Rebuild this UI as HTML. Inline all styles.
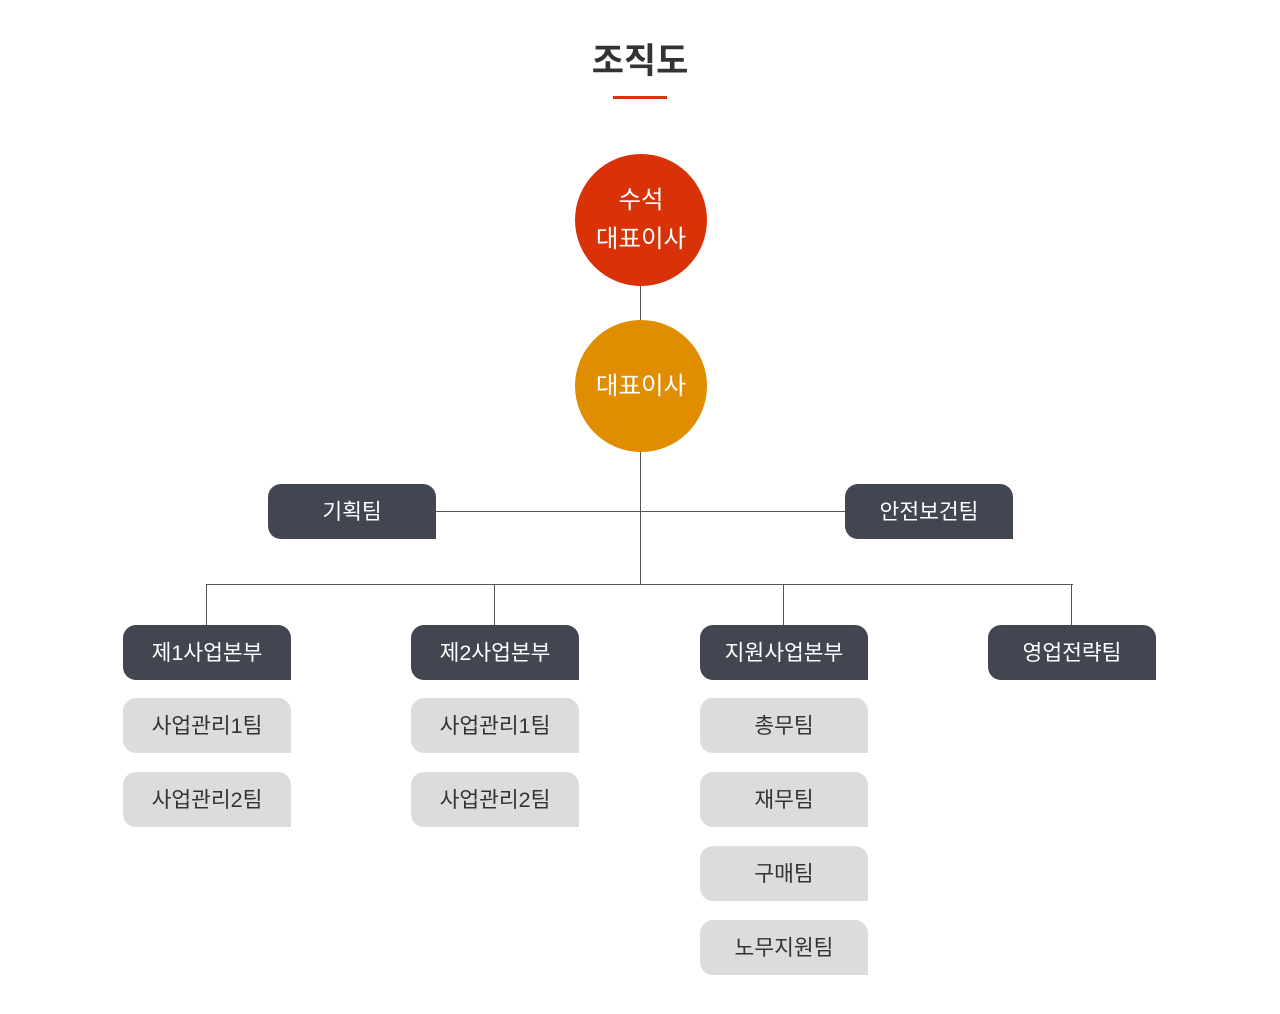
<!DOCTYPE html><html><head><meta charset="utf-8"><style>
body{margin:0;width:1280px;height:1014px;background:#fff;position:relative;font-family:"Liberation Sans","Noto Sans CJK KR",sans-serif;overflow:hidden}
.a{position:absolute}
.t{position:absolute;left:0;width:1280px;top:33px;text-align:center;font-size:35px;font-weight:bold;color:#333}
.c{position:absolute;width:132px;height:132px;border-radius:50%;color:#fff;font-size:24.5px;display:flex;align-items:center;justify-content:center;text-align:center;line-height:39px}
.b{position:absolute;width:168px;height:55px;border-radius:13px 13px 0 13px;display:flex;align-items:center;justify-content:center;font-size:21.5px;padding-bottom:2px;box-sizing:border-box}
.d{background:#414650;color:#fff}
.g{background:#dcdcdc;color:#333}
.l{position:absolute;background:#555}
</style></head><body>
<div class="t">조직도</div>
<div class="a" style="left:613px;top:96px;width:54px;height:3px;background:#d93208"></div>
<div class="l" style="left:640px;top:286px;width:1px;height:298px"></div>
<div class="l" style="left:436px;top:511px;width:410px;height:1px"></div>
<div class="l" style="left:207px;top:584px;width:866px;height:1px"></div>
<div class="l" style="left:206px;top:584px;width:1px;height:41px"></div>
<div class="l" style="left:494px;top:584px;width:1px;height:41px"></div>
<div class="l" style="left:783px;top:584px;width:1px;height:41px"></div>
<div class="l" style="left:1071px;top:584px;width:1px;height:41px"></div>
<div class="c" style="left:575px;top:154px;background:#d93208">수석<br>대표이사</div>
<div class="c" style="left:575px;top:320px;background:#e08e00">대표이사</div>
<div class="b d" style="left:268px;top:484px">기획팀</div>
<div class="b d" style="left:845px;top:484px">안전보건팀</div>
<div class="b d" style="left:123px;top:625px">제1사업본부</div>
<div class="b d" style="left:411px;top:625px">제2사업본부</div>
<div class="b d" style="left:700px;top:625px">지원사업본부</div>
<div class="b d" style="left:988px;top:625px">영업전략팀</div>
<div class="b g" style="left:123px;top:698px">사업관리1팀</div>
<div class="b g" style="left:123px;top:772px">사업관리2팀</div>
<div class="b g" style="left:411px;top:698px">사업관리1팀</div>
<div class="b g" style="left:411px;top:772px">사업관리2팀</div>
<div class="b g" style="left:700px;top:698px">총무팀</div>
<div class="b g" style="left:700px;top:772px">재무팀</div>
<div class="b g" style="left:700px;top:846px">구매팀</div>
<div class="b g" style="left:700px;top:920px">노무지원팀</div>
</body></html>
